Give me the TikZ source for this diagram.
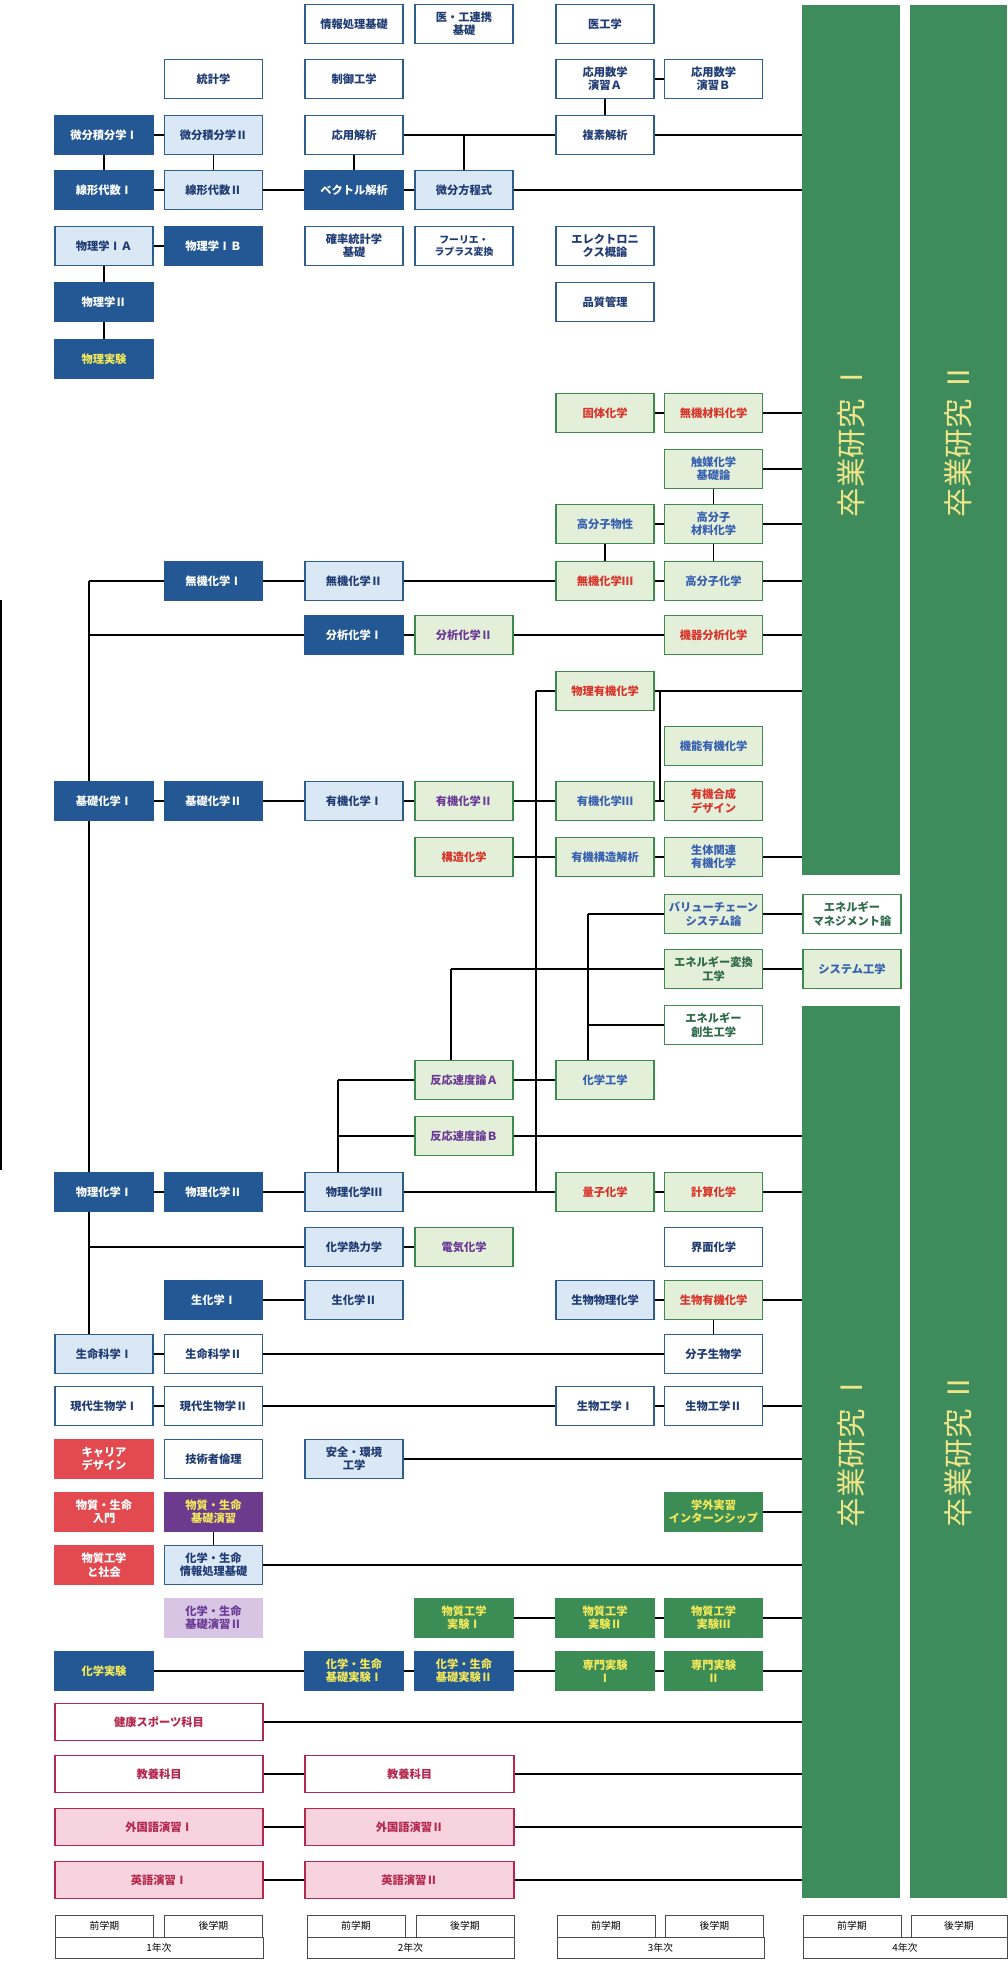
\documentclass[tikz,border=0pt]{standalone}
\usepackage{fontspec}
\setmainfont{Noto Sans CJK JP}
\usepackage{tikz}
\pgfdeclarelayer{background}
\pgfsetlayers{background,main}
\definecolor{dkblue}{RGB}{35,88,148}
\definecolor{ltblue}{RGB}{218,232,245}
\definecolor{midblue}{RGB}{46,94,142}
\definecolor{navytxt}{RGB}{31,59,115}
\definecolor{ltgreen}{RGB}{227,239,216}
\definecolor{gborder}{RGB}{61,139,79}
\definecolor{redtxt}{RGB}{217,52,43}
\definecolor{bluetxt}{RGB}{56,96,176}
\definecolor{purptxt}{RGB}{106,58,150}
\definecolor{redfill}{RGB}{226,74,79}
\definecolor{purpfill}{RGB}{108,59,142}
\definecolor{lpurpfill}{RGB}{216,197,227}
\definecolor{dkgreen}{RGB}{60,140,86}
\definecolor{yeltxt}{RGB}{242,232,90}
\definecolor{pinkfill}{RGB}{247,211,223}
\definecolor{crimson}{RGB}{180,40,79}
\definecolor{bargreen}{RGB}{62,140,92}
\definecolor{bartxt}{RGB}{239,230,138}
\definecolor{engtxt}{RGB}{47,106,74}

\begin{document}
\begin{tikzpicture}[x=0.025cm, y=-0.025cm]
	\tikzstyle{every node} = [font=\bfseries\fontsize{8}{9.5}\selectfont, align=center, inner sep=1pt]
	\tikzstyle{subj} = [rectangle, minimum width=2.45cm, minimum height=0.975cm, line width=0.9pt]
	\tikzstyle{dkbox} = [subj, fill=dkblue, draw=dkblue, text=white]
	\tikzstyle{dkboxy} = [dkbox, text=yeltxt]
	\tikzstyle{ltbox} = [subj, fill=ltblue, draw=midblue, text=navytxt]
	\tikzstyle{whbox} = [subj, fill=white, draw=midblue, text=navytxt]
	\tikzstyle{gnred} = [subj, fill=ltgreen, draw=gborder, text=redtxt]
	\tikzstyle{gnblue} = [subj, fill=ltgreen, draw=gborder, text=bluetxt]
	\tikzstyle{gnpurp} = [subj, fill=ltgreen, draw=gborder, text=purptxt]
	\tikzstyle{gwbox} = [subj, fill=white, draw=gborder, text=engtxt]
	\tikzstyle{rdbox} = [subj, fill=redfill, draw=redfill, text=white]
	\tikzstyle{ppbox} = [subj, fill=purpfill, draw=purpfill, text=yeltxt]
	\tikzstyle{lppbox} = [subj, fill=lpurpfill, draw=lpurpfill, text=purptxt]
	\tikzstyle{dgbox} = [subj, fill=dkgreen, draw=dkgreen, text=yeltxt]
	\tikzstyle{pkbox} = [subj, minimum width=5.2cm, fill=pinkfill, draw=crimson, text=crimson]
	\tikzstyle{pwbox} = [subj, minimum width=5.2cm, fill=white, draw=crimson, text=crimson]
	\tikzstyle{barbox} = [rectangle, fill=bargreen, minimum width=2.45cm, inner sep=0pt]
	\tikzstyle{bartext} = [rotate=90, text=bartxt, font=\fontsize{21}{22}\selectfont]
	\tikzstyle{hdbox} = [rectangle, draw=gray!60!black, fill=white, line width=0.6pt, minimum width=2.45cm, minimum height=0.55cm, font=\fontsize{7}{7.5}\selectfont]
	\tikzstyle{link} = [line width=1.3pt, black]
	\begin{pgfonlayer}{background}
		\fill[white] (0,0) rectangle (1007,1961);
	\end{pgfonlayer}
	\useasboundingbox (0,0) rectangle (1007,1961);
	\node[barbox, minimum height=21.75cm] (barTop) at (851,440) {};
	\node[barbox, minimum height=22.3cm] (barLow) at (851,1452) {};
	\node[barbox, minimum width=2.425cm, minimum height=47.325cm] (barB) at (958.5,951.5) {};
	\node[bartext] (gradA) at (851,440) {卒業研究 Ⅰ};
	\node[bartext] (gradB) at (958.5,440) {卒業研究 Ⅱ};
	\node[bartext] (gradC) at (851,1450) {卒業研究 Ⅰ};
	\node[bartext] (gradD) at (958.5,1450) {卒業研究 Ⅱ};
	\node[whbox] (infoA) at (354,24) {情報処理基礎};
	\node[whbox] (medA) at (464,24) {医・工連携\\基礎};
	\node[whbox] (medB) at (605,24) {医工学};
	\node[whbox] (statA) at (213.5,79) {統計学};
	\node[whbox] (ctrlA) at (354,79) {制御工学};
	\node[whbox] (appmA) at (605,79) {応用数学\\演習Ａ};
	\node[whbox] (appmB) at (713.5,79) {応用数学\\演習Ｂ};
	\node[dkbox] (calcA) at (104,135) {微分積分学Ⅰ};
	\node[ltbox] (calcB) at (213.5,135) {微分積分学Ⅱ};
	\node[whbox] (anaA) at (354,135) {応用解析};
	\node[whbox] (anaB) at (605,135) {複素解析};
	\node[dkbox] (linA) at (104,190) {線形代数Ⅰ};
	\node[ltbox] (linB) at (213.5,190) {線形代数Ⅱ};
	\node[dkbox] (vecA) at (354,190) {ベクトル解析};
	\node[ltbox] (diffA) at (464,190) {微分方程式};
	\node[ltbox] (physA) at (104,246) {物理学ⅠＡ};
	\node[dkbox] (physB) at (213.5,246) {物理学ⅠＢ};
	\node[whbox] (probA) at (354,246) {確率統計学\\基礎};
	\node[whbox, font=\bfseries\fontsize{7}{8}\selectfont] (fourA) at (464,246) {フーリエ・\\ラプラス変換};
	\node[whbox] (elecA) at (605,246) {エレクトロニ\\クス概論};
	\node[dkbox] (physC) at (104,302) {物理学Ⅱ};
	\node[whbox] (qualA) at (605,302) {品質管理};
	\node[dkboxy] (physD) at (104,359) {物理実験};
	\node[gnred] (solA) at (605,413) {固体化学};
	\node[gnred] (solB) at (713.5,413) {無機材料化学};
	\node[gnblue] (catA) at (713.5,469) {触媒化学\\基礎論};
	\node[gnblue] (polA) at (605,524) {高分子物性};
	\node[gnblue] (polB) at (713.5,524) {高分子\\材料化学};
	\node[dkbox] (inorgA) at (213.5,581) {無機化学Ⅰ};
	\node[ltbox] (inorgB) at (354,581) {無機化学Ⅱ};
	\node[gnred] (inorgC) at (605,581) {無機化学Ⅲ};
	\node[gnblue] (polC) at (713.5,581) {高分子化学};
	\node[dkbox] (anlA) at (354,635) {分析化学Ⅰ};
	\node[gnpurp] (anlB) at (464,635) {分析化学Ⅱ};
	\node[gnred] (anlC) at (713.5,635) {機器分析化学};
	\node[gnred] (orgP) at (605,691) {物理有機化学};
	\node[gnblue] (orgF) at (713.5,746) {機能有機化学};
	\node[dkbox] (chemA) at (104,801) {基礎化学Ⅰ};
	\node[dkbox] (chemB) at (213.5,801) {基礎化学Ⅱ};
	\node[ltbox] (orgA) at (354,801) {有機化学Ⅰ};
	\node[gnpurp] (orgB) at (464,801) {有機化学Ⅱ};
	\node[gnblue] (orgC) at (605,801) {有機化学Ⅲ};
	\node[gnred] (orgD) at (713.5,801) {有機合成\\デザイン};
	\node[gnred] (strA) at (464,857) {構造化学};
	\node[gnblue] (strB) at (605,857) {有機構造解析};
	\node[gnblue] (strC) at (713.5,857) {生体関連\\有機化学};
	\node[gnblue] (valA) at (713.5,914) {バリューチェーン\\システム論};
	\node[gwbox] (engM) at (852,914) {エネルギー\\マネジメント論};
	\node[gnblue, text=engtxt] (engC) at (713.5,969) {エネルギー変換\\工学};
	\node[gnblue] (sysA) at (852,969) {システム工学};
	\node[gwbox] (engG) at (713.5,1025) {エネルギー\\創生工学};
	\node[gnpurp] (rateA) at (464,1080) {反応速度論Ａ};
	\node[gnblue] (cheA) at (605,1080) {化学工学};
	\node[gnpurp] (rateB) at (464,1136) {反応速度論Ｂ};
	\node[dkbox] (pchA) at (104,1192) {物理化学Ⅰ};
	\node[dkbox] (pchB) at (213.5,1192) {物理化学Ⅱ};
	\node[ltbox] (pchC) at (354,1192) {物理化学Ⅲ};
	\node[gnred] (qchA) at (605,1192) {量子化学};
	\node[gnred] (qchB) at (713.5,1192) {計算化学};
	\node[ltbox] (thmA) at (354,1247) {化学熱力学};
	\node[gnpurp] (thmB) at (464,1247) {電気化学};
	\node[whbox] (surfA) at (713.5,1247) {界面化学};
	\node[dkbox] (bioA) at (213.5,1300) {生化学Ⅰ};
	\node[ltbox] (bioB) at (354,1300) {生化学Ⅱ};
	\node[ltbox] (bioC) at (605,1300) {生物物理化学};
	\node[gnred] (bioD) at (713.5,1300) {生物有機化学};
	\node[ltbox] (lifeA) at (104,1354) {生命科学Ⅰ};
	\node[whbox] (lifeB) at (213.5,1354) {生命科学Ⅱ};
	\node[whbox] (lifeC) at (713.5,1354) {分子生物学};
	\node[whbox] (modA) at (104,1406) {現代生物学Ⅰ};
	\node[whbox] (modB) at (213.5,1406) {現代生物学Ⅱ};
	\node[whbox] (bteA) at (605,1406) {生物工学Ⅰ};
	\node[whbox] (bteB) at (713.5,1406) {生物工学Ⅱ};
	\node[rdbox] (carA) at (104,1459) {キャリア\\デザイン};
	\node[whbox] (ethA) at (213.5,1459) {技術者倫理};
	\node[ltbox] (safA) at (354,1459) {安全・環境\\工学};
	\node[rdbox] (intA) at (104,1512) {物質・生命\\入門};
	\node[ppbox] (semA) at (213.5,1512) {物質・生命\\基礎演習};
	\node[dgbox] (intB) at (713.5,1512) {学外実習\\インターンシップ};
	\node[rdbox] (socA) at (104,1565) {物質工学\\と社会};
	\node[ltbox] (infoB) at (213.5,1565) {化学・生命\\情報処理基礎};
	\node[lppbox] (semB) at (213.5,1618) {化学・生命\\基礎演習Ⅱ};
	\node[dgbox] (expA) at (464,1618) {物質工学\\実験Ⅰ};
	\node[dgbox] (expB) at (605,1618) {物質工学\\実験Ⅱ};
	\node[dgbox] (expC) at (713.5,1618) {物質工学\\実験Ⅲ};
	\node[dkboxy] (labA) at (104,1671) {化学実験};
	\node[dkboxy] (labB) at (354,1671) {化学・生命\\基礎実験Ⅰ};
	\node[dkboxy] (labC) at (464,1671) {化学・生命\\基礎実験Ⅱ};
	\node[dgbox] (expD) at (605,1671) {専門実験\\Ⅰ};
	\node[dgbox] (expE) at (713.5,1671) {専門実験\\Ⅱ};
	\node[pwbox, minimum height=0.925cm] (sport) at (159,1722) {健康スポーツ科目};
	\node[pwbox, minimum height=0.925cm] (libA) at (159,1774) {教養科目};
	\node[pwbox, minimum height=0.925cm, minimum width=5.225cm] (libB) at (409.5,1774) {教養科目};
	\node[pkbox, minimum height=0.925cm] (lngA) at (159,1827) {外国語演習Ⅰ};
	\node[pkbox, minimum height=0.925cm, minimum width=5.225cm] (lngB) at (409.5,1827) {外国語演習Ⅱ};
	\node[pkbox, minimum height=0.925cm] (engA) at (159,1880) {英語演習Ⅰ};
	\node[pkbox, minimum height=0.925cm, minimum width=5.225cm] (engB) at (409.5,1880) {英語演習Ⅱ};
	\node[hdbox] (semAa) at (104.5,1926) {前学期};
	\node[hdbox] (semAb) at (213.5,1926) {後学期};
	\node[hdbox] (semBa) at (356,1926) {前学期};
	\node[hdbox] (semBb) at (465,1926) {後学期};
	\node[hdbox] (semCa) at (606,1926) {前学期};
	\node[hdbox] (semCb) at (714.5,1926) {後学期};
	\node[hdbox] (semDa) at (852,1926) {前学期};
	\node[hdbox, minimum width=2.4cm] (semDb) at (959,1926) {後学期};
	\node[hdbox, minimum width=5.2cm, minimum height=0.525cm] (yearA) at (159,1947.5) {1年次};
	\node[hdbox, minimum width=5.175cm, minimum height=0.525cm] (yearB) at (410.5,1947.5) {2年次};
	\node[hdbox, minimum width=5.175cm, minimum height=0.525cm] (yearC) at (660.5,1947.5) {3年次};
	\node[hdbox, minimum width=5.1cm, minimum height=0.525cm] (yearD) at (905,1947.5) {4年次};
	\coordinate (spineTop) at (89,581);
	\coordinate (spineBot) at (89,1334);
	\coordinate (orgTop) at (536,691);
	\coordinate (orgBot) at (536,1192);
	\coordinate (funTop) at (660,691);
	\coordinate (funBot) at (660,801);
	\coordinate (valTop) at (588,914);
	\coordinate (engTop) at (451,969);
	\coordinate (rateTop) at (338,1080);
	\coordinate (brkTop) at (1,600);
	\coordinate (brkBot) at (1,1170);
	\begin{pgfonlayer}{background}
	\draw [link] (appmA.east)--(appmB.west);
	\draw [link] (appmA.south)--(anaB.north);
	\draw [link] (calcA.east)--(calcB.west);
	\draw [link] (calcA.south)--(linA.north);
	\draw [link] (calcB.south)--(linB.north);
	\draw [link] (anaA.east)--(anaB.west);
	\draw [link] (anaB.east)--(anaB.east -| barTop.west);
	\draw [link] (anaA.south)--(vecA.north);
	\draw [link] (diffA.north)--(diffA.north |- anaA.east);
	\draw [link] (linA.east)--(linB.west);
	\draw [link] (linB.east)--(vecA.west);
	\draw [link] (vecA.east)--(diffA.west);
	\draw [link] (diffA.east)--(diffA.east -| barTop.west);
	\draw [link] (physA.east)--(physB.west);
	\draw [link] (physA.south)--(physC.north);
	\draw [link] (physC.south)--(physD.north);
	\draw [link] (solA.east)--(solB.west);
	\draw [link] (solB.east)--(solB.east -| barTop.west);
	\draw [link] (catA.east)--(catA.east -| barTop.west);
	\draw [link] (catA.south)--(polB.north);
	\draw [link] (polA.east)--(polB.west);
	\draw [link] (polB.east)--(polB.east -| barTop.west);
	\draw [link] (polA.south)--(inorgC.north);
	\draw [link] (polB.south)--(polC.north);
	\draw [link] (spineTop)--(inorgA.west);
	\draw [link] (spineTop)--(spineBot);
	\draw [link] (inorgA.east)--(inorgB.west);
	\draw [link] (inorgB.east)--(inorgC.west);
	\draw [link] (inorgC.east)--(polC.west);
	\draw [link] (polC.east)--(polC.east -| barTop.west);
	\draw [link] (spineTop |- anlA.west)--(anlA.west);
	\draw [link] (anlA.east)--(anlB.west);
	\draw [link] (anlB.east)--(anlC.west);
	\draw [link] (anlC.east)--(anlC.east -| barTop.west);
	\draw [link] (orgTop)--(orgP.west);
	\draw [link] (orgTop)--(orgBot);
	\draw [link] (orgP.east)--(orgP.east -| barTop.west);
	\draw [link] (funTop)--(funBot);
	\draw [link] (chemA.east)--(chemB.west);
	\draw [link] (chemB.east)--(orgA.west);
	\draw [link] (orgA.east)--(orgB.west);
	\draw [link] (orgB.east)--(orgC.west);
	\draw [link] (orgC.east)--(orgD.west);
	\draw [link] (strA.east)--(strB.west);
	\draw [link] (strB.east)--(strC.west);
	\draw [link] (strC.east)--(strC.east -| barTop.west);
	\draw [link] (valTop)--(valA.west);
	\draw [link] (valTop)--(valTop |- cheA.north);
	\draw [link] (valA.east)--(engM.west);
	\draw [link] (engTop)--(engC.west);
	\draw [link] (engTop)--(engTop |- rateA.north);
	\draw [link] (engC.east)--(sysA.west);
	\draw [link] (valTop |- engG.west)--(engG.west);
	\draw [link] (rateTop)--(rateA.west);
	\draw [link] (rateTop)--(rateTop |- pchC.north);
	\draw [link] (rateTop |- rateB.west)--(rateB.west);
	\draw [link] (rateB.east)--(rateB.east -| barLow.west);
	\draw [link] (rateA.east)--(cheA.west);
	\draw [link] (pchA.east)--(pchB.west);
	\draw [link] (pchB.east)--(pchC.west);
	\draw [link] (pchC.east)--(qchA.west);
	\draw [link] (qchA.east)--(qchB.west);
	\draw [link] (qchB.east)--(qchB.east -| barLow.west);
	\draw [link] (spineTop |- thmA.west)--(thmA.west);
	\draw [link] (thmA.east)--(thmB.west);
	\draw [link] (bioA.east)--(bioB.west);
	\draw [link] (bioC.east)--(bioD.west);
	\draw [link] (bioD.east)--(bioD.east -| barLow.west);
	\draw [link] (bioD.south)--(lifeC.north);
	\draw [link] (lifeA.east)--(lifeB.west);
	\draw [link] (lifeB.east)--(lifeC.west);
	\draw [link] (modA.east)--(modB.west);
	\draw [link] (modB.east)--(bteA.west);
	\draw [link] (bteA.east)--(bteB.west);
	\draw [link] (bteB.east)--(bteB.east -| barLow.west);
	\draw [link] (safA.east)--(safA.east -| barLow.west);
	\draw [link] (intB.east)--(intB.east -| barLow.west);
	\draw [link] (semA.south)--(infoB.north);
	\draw [link] (infoB.east)--(infoB.east -| barLow.west);
	\draw [link] (expA.east)--(expB.west);
	\draw [link] (expB.east)--(expC.west);
	\draw [link] (expC.east)--(expC.east -| barLow.west);
	\draw [link] (labA.east)--(labB.west);
	\draw [link] (labB.east)--(labC.west);
	\draw [link] (labC.east)--(expD.west);
	\draw [link] (expD.east)--(expE.west);
	\draw [link] (expE.east)--(expE.east -| barLow.west);
	\draw [link] (sport.east)--(sport.east -| barLow.west);
	\draw [link] (libA.east)--(libB.west);
	\draw [link] (libB.east)--(libB.east -| barLow.west);
	\draw [link] (lngA.east)--(lngB.west);
	\draw [link] (lngB.east)--(lngB.east -| barLow.west);
	\draw [link] (engA.east)--(engB.west);
	\draw [link] (engB.east)--(engB.east -| barLow.west);
	\draw [link] (brkTop)--(brkBot);
	\end{pgfonlayer}
\end{tikzpicture}
\end{document}
